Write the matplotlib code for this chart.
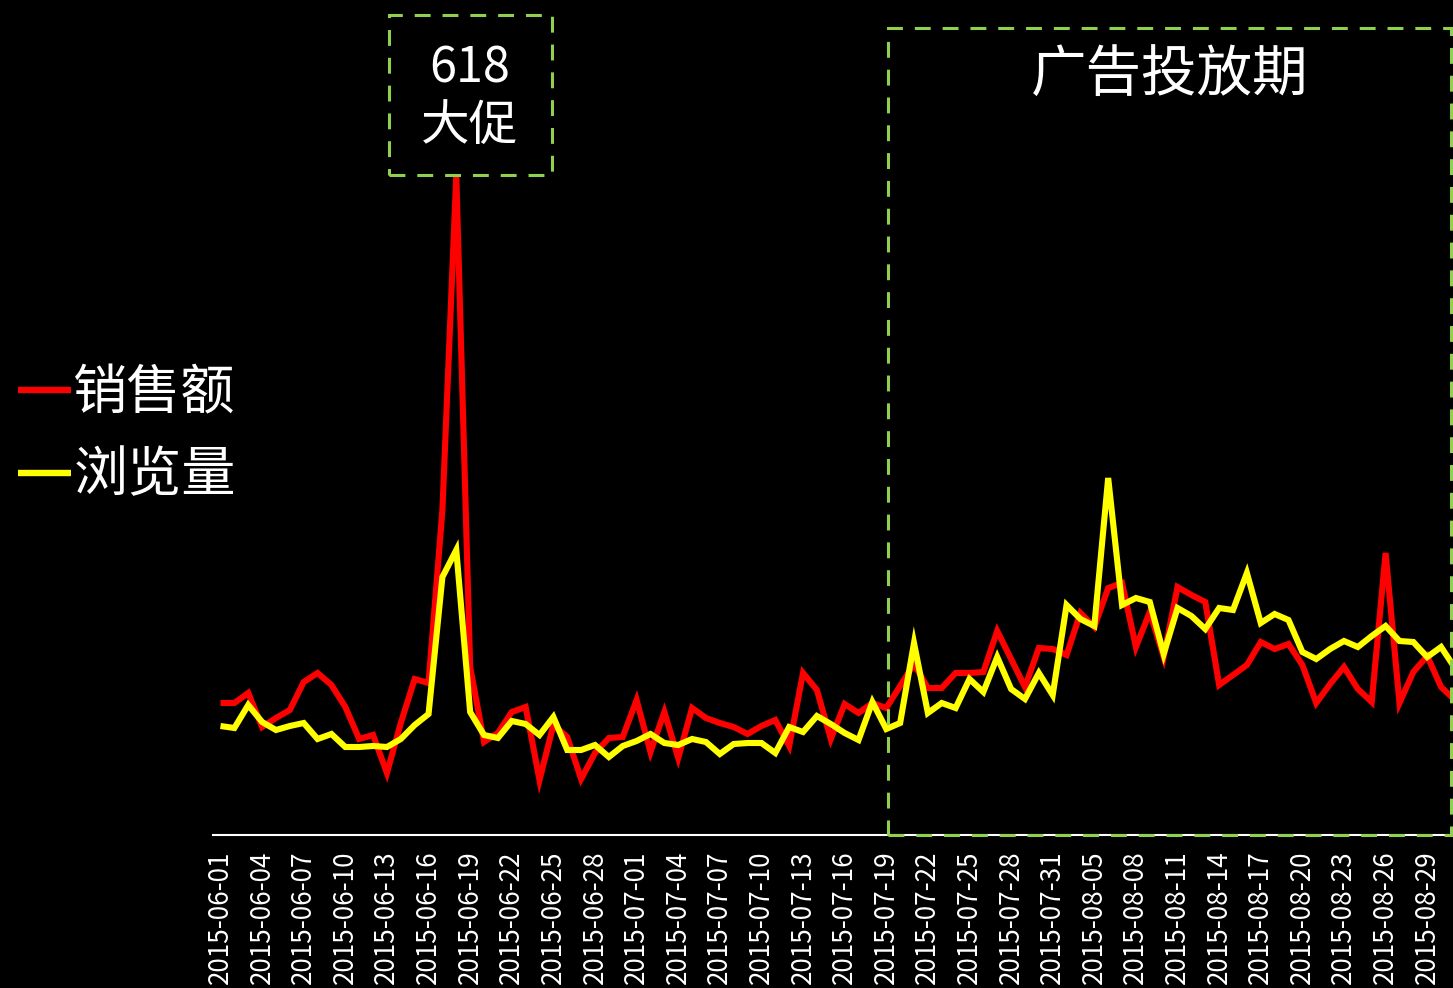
import matplotlib
matplotlib.use("Agg")
import matplotlib.pyplot as plt
from matplotlib.patches import Rectangle
import pandas as pd

plt.rcParams['font.family'] = ['Noto Sans CJK SC', 'DejaVu Sans']

# ---- data -------------------------------------------------------------
all_days = pd.date_range("2015-06-01", "2015-08-31", freq="D")
missing_days = ["2015-08-03", "2015-08-04"]
dates = [d.strftime("%Y-%m-%d") for d in all_days if d.strftime("%Y-%m-%d") not in missing_days]

sales = [132, 132, 142, 108, 117, 125, 153, 162, 150, 128,
         96, 100, 62, 112, 156, 152, 325, 660, 168, 93,
         102, 123, 128, 55, 110, 98, 56, 82, 97, 98,
         135, 83, 123, 77, 127, 117, 112, 108, 101, 109,
         115, 89, 162, 145, 96, 131, 122, 132, 127, 149,
         171, 147, 147, 162, 162, 163, 204, 176, 148, 187,
         186, 180, 222, 208, 247, 252, 188, 223, 178, 248,
         240, 233, 150, 160, 170, 193, 186, 191, 170, 132,
         151, 168, 146, 133, 282, 132, 163, 179, 148, 135]

views = [109, 107, 130, 113, 105, 109, 112, 96, 101, 88,
         88, 89, 88, 96, 110, 121, 258, 285, 123, 100,
         97, 114, 111, 100, 118, 85, 85, 90, 78, 89,
         94, 101, 92, 90, 96, 93, 81, 91, 92, 92,
         82, 108, 103, 119, 111, 102, 95, 133, 106, 112,
         192, 122, 132, 127, 156, 143, 178, 146, 136, 162,
         140, 230, 216, 209, 357, 230, 237, 233, 181, 227,
         219, 206, 227, 225, 262, 212, 221, 215, 183, 176,
         186, 194, 188, 199, 209, 194, 193, 178, 188, 167]

series_names = ["销售额", "浏览量"]
series_colors = ["#FF0000", "#FFFF00"]
tick_step = 3

# ---- figure -----------------------------------------------------------
W, H = 1453, 988
fig = plt.figure(figsize=(W / 100, H / 100), dpi=100, facecolor="black")
ax = fig.add_axes([213 / W, (H - 835) / H, (W - 213) / W, 835 / H], facecolor="black")

x = list(range(len(dates)))
for vals, name, col in zip([sales, views], series_names, series_colors):
    ax.plot(x, vals, color=col, lw=4.4, label=name,
            solid_joinstyle="miter", solid_capstyle="butt")

ax.set_xlim(-0.54, 88.86)
ax.set_ylim(0, 835)

ax.set_xticks(x[::tick_step])
ax.set_xticklabels(dates[::tick_step], rotation=90, color="white", fontsize=18.8)
ax.tick_params(axis="x", length=0, pad=11)
ax.set_yticks([])
for s in ["left", "right", "top"]:
    ax.spines[s].set_visible(False)
ax.spines["bottom"].set_color("white")
ax.spines["bottom"].set_linewidth(1.5)

leg = fig.legend(loc="center left", bbox_to_anchor=(18 / W, 1 - 435 / H),
                 frameon=False, fontsize=39, handlelength=0.97, handletextpad=0.05,
                 labelspacing=0.5, borderpad=0, borderaxespad=0)
for t in leg.get_texts():
    t.set_color("white")
for h in leg.get_lines():
    h.set_linewidth(4.6)

# ---- annotation boxes -------------------------------------------------
green = "#8FD14F"
dash = (0, (5.2, 3.9))
def fig_rect(x0, y0, x1, y1):
    return Rectangle((x0 / W, 1 - y1 / H), (x1 - x0) / W, (y1 - y0) / H,
                     transform=fig.transFigure, fill=False, edgecolor=green,
                     lw=2.2, linestyle=dash, zorder=5)

fig.patches.append(fig_rect(389, 15, 552, 175))
fig.patches.append(fig_rect(888, 28, 1451, 835))

fig.text(470 / W, 1 - 69 / H, "618", color="white", fontsize=35,
         ha="center", va="center")
fig.text(470 / W, 1 - 127 / H, "大促", color="white", fontsize=35,
         ha="center", va="center")
fig.text(1170 / W, 1 - 76 / H, "广告投放期", color="white", fontsize=40,
         ha="center", va="center")

fig.savefig("out.png", dpi=100, facecolor="black")
